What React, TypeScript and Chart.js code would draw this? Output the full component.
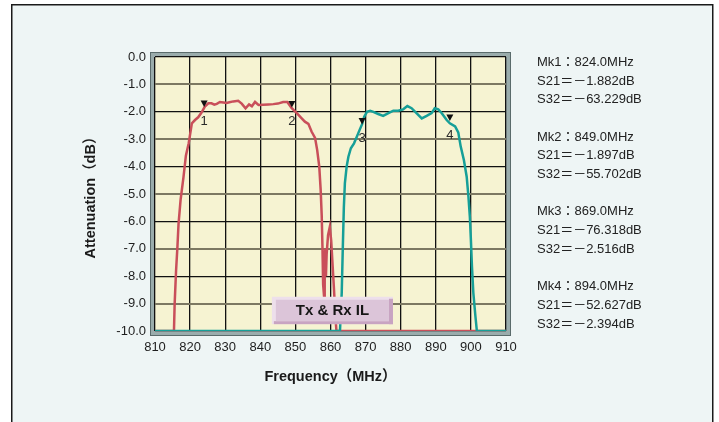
import { useEffect, useRef } from 'react';
import { Chart, registerables } from 'chart.js';

Chart.register(...registerables);

// ---- data ----
const xTickValues = [810, 820, 830, 840, 850, 860, 870, 880, 890, 900, 910];
const yTickValues = [0, -1, -2, -3, -4, -5, -6, -7, -8, -9, -10];

// Tx (S21) curve
const txFreq = [
  810, 815.4, 815.6, 816.0, 816.4, 816.7, 817.3, 818.1, 818.8, 819.6, 820.5, 821.4, 822.3, 823.3,
  824.2, 825.2, 826.1, 826.9, 827.6, 828.5, 829.5, 830.4, 831.2, 832.3, 833.7, 834.7, 835.8, 836.8,
  837.6, 838.5, 839.5, 840.8, 842.3, 843.7, 845.0, 846.5, 847.7, 848.9, 850.4, 851.8, 852.7, 853.7,
  854.6, 855.6, 856.2, 856.8, 857.2, 857.5, 857.7, 857.9, 858.2, 858.35, 858.5, 858.7, 858.9, 859.3,
  859.8, 860.2, 860.6, 861.0, 861.4, 861.7, 910,
];
const txDb = [
  -10, -10, -9.0, -7.8, -6.9, -6.1, -5.2, -4.4, -3.6, -3.15, -2.42, -2.3, -2.2, -2.02,
  -1.81, -1.69, -1.69, -1.74, -1.71, -1.64, -1.66, -1.68, -1.65, -1.62, -1.6, -1.7, -1.87, -1.73,
  -1.8, -1.64, -1.75, -1.74, -1.73, -1.72, -1.7, -1.64, -1.64, -1.86, -2.05, -2.24, -2.36, -2.44,
  -2.72, -2.95, -3.39, -4.0, -4.85, -5.8, -6.9, -8.3, -8.8, -7.2, -7.0, -8.0, -7.2, -6.5,
  -6.2, -6.7, -7.6, -8.5, -9.5, -10, -10,
];

// Rx (S32) curve
const rxFreq = [
  810, 862.7, 863.2, 863.5, 863.8, 864.1, 864.6, 865.1, 865.8, 866.7, 867.5, 868.3, 869.0, 869.6,
  870.4, 871.3, 872.2, 873.6, 875.0, 876.5, 877.9, 879.3, 880.7, 881.9, 883.1, 884.5, 886.0, 887.4,
  888.8, 889.7, 890.7, 891.7, 893.1, 894.0, 895.5, 896.4, 897.1, 898.0, 898.8, 899.3, 899.7, 900.0,
  900.3, 900.7, 901.3, 901.7, 910,
];
const rxDb = [
  -10, -10, -8.6, -7.0, -5.5, -4.6, -4.0, -3.64, -3.33, -3.15, -2.91, -2.66, -2.45, -2.18,
  -2.0, -1.96, -2.0, -2.08, -2.15, -2.05, -1.96, -1.96, -1.91, -1.79, -1.87, -2.05, -2.24, -2.15,
  -2.05, -1.87, -1.91, -2.05, -2.3, -2.42, -2.53, -2.75, -3.27, -3.76, -4.37, -5.1, -5.83, -6.68,
  -7.65, -8.62, -9.48, -10, -10,
];

// markers
const markerNames = ['Mk1', 'Mk2', 'Mk3', 'Mk4'];
const markerFreqs = [824.0, 849.0, 869.0, 894.0];
const markerS21 = [-1.882, -1.897, -76.318, -52.627];
const markerS32 = [-63.229, -55.702, -2.516, -2.394];

const boxLabel = 'Tx & Rx IL';
const xTitle = 'Frequency（MHz）';
const yTitle = 'Attenuation（dB）';

// ---- styles ----
const FONT = "'Liberation Sans', Arial, 'Noto Sans CJK JP', sans-serif";
const RED = '#c94f5a';
const TEAL = '#169f98';

const decorPlugin = {
  id: 'decor',
  beforeDraw(chart: any) {
    const { ctx, chartArea: a, width, height } = chart;
    ctx.save();
    ctx.fillStyle = '#ffffff';
    ctx.fillRect(0, 0, width, height);
    ctx.fillStyle = '#eef5f5';
    ctx.fillRect(11, 4, 702, height);
    ctx.strokeStyle = '#1a1a1a';
    ctx.lineWidth = 1.5;
    ctx.strokeRect(11.75, 4.75, 701, height + 10);
    // plot frame
    ctx.fillStyle = '#9aacac';
    ctx.fillRect(a.left - 4, a.top - 4, a.right - a.left + 8, a.bottom - a.top + 8);
    ctx.strokeStyle = '#5a6b6b';
    ctx.lineWidth = 1;
    ctx.strokeRect(a.left - 4.5, a.top - 4.5, a.right - a.left + 9, a.bottom - a.top + 9);
    ctx.fillStyle = '#f6f3d2';
    ctx.fillRect(a.left, a.top, a.right - a.left, a.bottom - a.top);
    ctx.restore();
  },
  afterDatasetsDraw(chart: any) {
    const { ctx } = chart;
    const xs = chart.scales.x;
    const ys = chart.scales.y;
    ctx.save();
    // markers
    ctx.font = `13px ${FONT}`;
    ctx.textAlign = 'center';
    ctx.textBaseline = 'middle';
    markerFreqs.forEach((f, i) => {
      const v = Math.max(markerS21[i], markerS32[i]);
      const px = xs.getPixelForValue(f);
      const py = ys.getPixelForValue(v);
      ctx.fillStyle = '#111';
      ctx.beginPath();
      ctx.moveTo(px - 3.5, py - 8);
      ctx.lineTo(px + 3.5, py - 8);
      ctx.lineTo(px, py - 1.5);
      ctx.closePath();
      ctx.fill();
      ctx.fillStyle = '#2a2a2a';
      ctx.fillText(String(i + 1), px, py + 12.5);
    });

    // label box
    const bx0 = xs.getPixelForValue(843.3);
    const bx1 = xs.getPixelForValue(877.8);
    const by0 = ys.getPixelForValue(-8.75);
    const by1 = ys.getPixelForValue(-9.75);
    ctx.fillStyle = '#eddfeb';
    ctx.fillRect(bx0, by0, bx1 - bx0, by1 - by0);
    ctx.fillStyle = '#c8a4c2';
    ctx.fillRect(bx1 - 4, by0 + 2, 4, by1 - by0 - 2);
    ctx.fillRect(bx0 + 2, by1 - 3, bx1 - bx0 - 2, 3);
    ctx.fillStyle = '#dcc5d9';
    ctx.fillRect(bx0 + 4, by0 + 3, bx1 - bx0 - 8, by1 - by0 - 6);
    ctx.fillStyle = '#161616';
    ctx.font = `bold 15px ${FONT}`;
    ctx.fillText(boxLabel, (bx0 + bx1) / 2, (by0 + by1) / 2 + 0.5);

    // readout text
    ctx.font = `13px ${FONT}`;
    ctx.textAlign = 'left';
    ctx.fillStyle = '#222';
    markerNames.forEach((name, i) => {
      const lines = [
        `${name}：${markerFreqs[i].toFixed(1)}MHz`,
        `S21＝－${Math.abs(markerS21[i]).toFixed(3)}dB`,
        `S32＝－${Math.abs(markerS32[i]).toFixed(3)}dB`,
      ];
      lines.forEach((t, k) => {
        ctx.fillText(t, 537, 62.3 + (i * 4 + k) * 18.7);
      });
    });
    ctx.restore();
  },
};

export default function App() {
  const ref = useRef<HTMLCanvasElement | null>(null);

  useEffect(() => {
    if (!ref.current) return;
    const chart = new Chart(ref.current, {
      type: 'line',
      data: {
        datasets: [
          {
            label: 'S32',
            data: rxFreq.map((f, i) => ({ x: f, y: rxDb[i] })),
            borderColor: TEAL,
            borderWidth: 2.5,
            pointRadius: 0,
            tension: 0,
            fill: false,
          },
          {
            label: 'S21',
            data: txFreq.map((f, i) => ({ x: f, y: txDb[i] })),
            borderColor: RED,
            borderWidth: 2.5,
            pointRadius: 0,
            tension: 0,
            fill: false,
          },
        ],
      },
      options: {
        responsive: false,
        maintainAspectRatio: false,
        animation: false,
        layout: { padding: { left: 0, top: 57, right: 213, bottom: 0 } },
        plugins: {
          legend: { display: false },
          tooltip: { enabled: false },
        },
        scales: {
          x: {
            type: 'linear',
            min: 810,
            max: 910,
            afterFit: (s: any) => {
              s.height = 91;
            },
            afterBuildTicks: (s: any) => {
              s.ticks = xTickValues.map((v) => ({ value: v }));
            },
            ticks: {
              padding: 9,
              color: '#1e1e1e',
              font: { size: 13, family: FONT },
              callback: (v: any) => String(v),
              maxRotation: 0,
            },
            grid: { color: '#111', lineWidth: 1.3, drawTicks: false },
            border: { display: false },
            title: {
              display: true,
              text: xTitle,
              color: '#1a1a1a',
              font: { size: 14.5, weight: 'bold', family: FONT },
              padding: { top: 0, bottom: 36.3 },
            },
          },
          y: {
            type: 'linear',
            min: -10,
            max: 0,
            afterFit: (s: any) => {
              s.width = 155;
            },
            afterBuildTicks: (s: any) => {
              s.ticks = yTickValues.map((v) => ({ value: v }));
            },
            ticks: {
              padding: 9,
              color: '#1e1e1e',
              font: { size: 13, family: FONT },
              callback: (v: any) => Number(v).toFixed(1),
            },
            grid: {
              color: (c: any) => (Math.abs(Math.round(c.tick?.value ?? 0)) % 2 === 1 ? '#7c7862' : '#111'),
              lineWidth: (c: any) => (Math.abs(Math.round(c.tick?.value ?? 0)) % 2 === 1 ? 2 : 1.3),
              drawTicks: false,
            },
            border: { display: false },
            title: {
              display: true,
              text: yTitle,
              color: '#1a1a1a',
              font: { size: 14.5, weight: 'bold', family: FONT },
              padding: { top: 82.3, bottom: 0 },
            },
          },
        },
      },
      plugins: [decorPlugin],
    } as any);
    return () => chart.destroy();
  }, []);

  return (
    <div style={{ position: 'absolute', left: 0, top: 0, width: 719, height: 422 }}>
      <canvas ref={ref} width={719} height={422} style={{ width: 719, height: 422, display: 'block' }} />
    </div>
  );
}
